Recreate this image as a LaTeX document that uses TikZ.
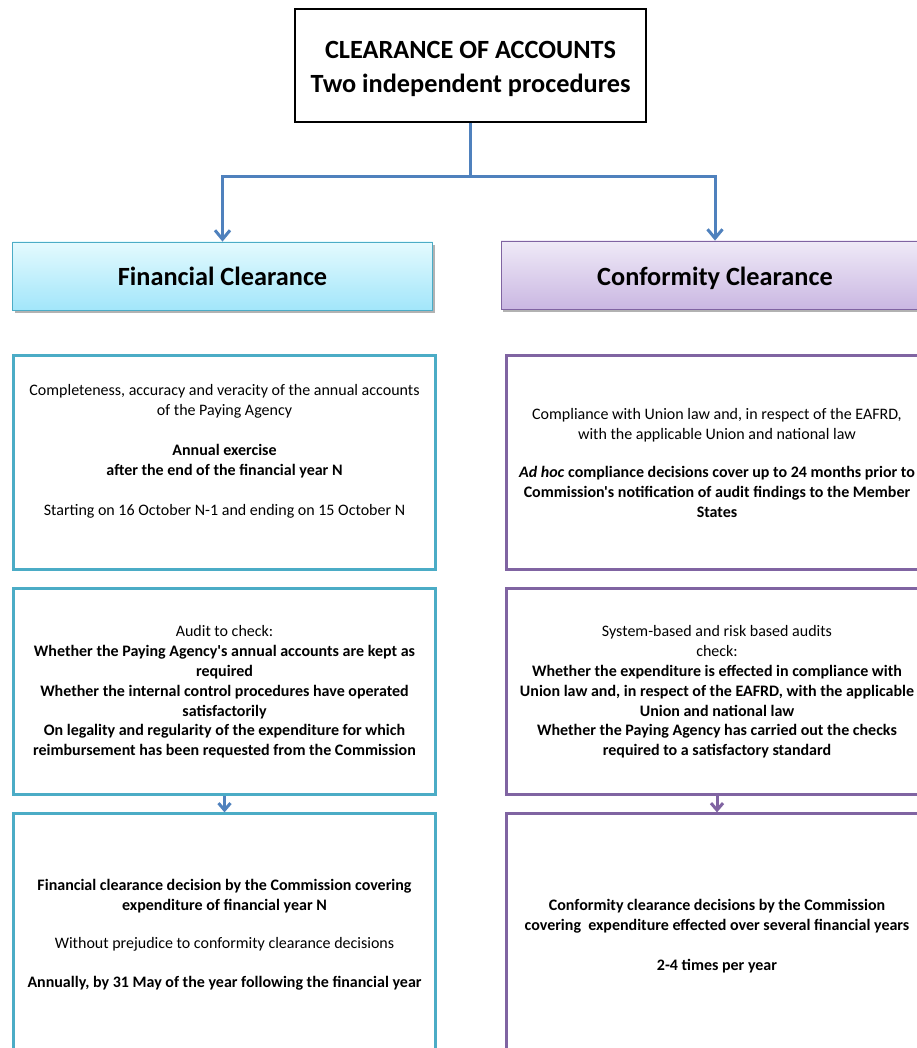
\documentclass[tikz,border=0pt]{standalone}
\usepackage{fontspec}
\setmainfont{Carlito}[Ligatures=TeXOff]
\usepackage{xcolor}
\usepackage{tikz}
\usetikzlibrary{positioning, arrows.meta, shadows}

\definecolor{finblue}{HTML}{4BACC6}
\definecolor{confpurple}{HTML}{8064A2}
\definecolor{linkblue}{HTML}{4F81BD}
\definecolor{fintop}{HTML}{E4FAFE}
\definecolor{finbot}{HTML}{A2E6FA}
\definecolor{conftop}{HTML}{EFEAF7}
\definecolor{confbot}{HTML}{CAB7E2}

\begin{document}
\begin{tikzpicture}[
        x=1pt, y=-1pt,
        node distance=16pt,
        titlebox/.style={draw, line width=2pt, minimum width=351pt, minimum height=113pt, font=\fontsize{26.3}{34}\selectfont\bfseries, align=center},
        head/.style={draw=#1, line width=0.8pt, minimum width=420pt, minimum height=68pt, text height=26pt, text depth=6pt,
            font=\fontsize{26.3}{30}\selectfont\bfseries,
            drop shadow={shadow xshift=2pt, shadow yshift=-3pt, opacity=0.3, fill=black}},
        panel/.style={draw=#1, line width=3pt, minimum width=422pt, inner sep=0pt, font=\fontsize{16}{19.8}\selectfont, align=center},
        link/.style={draw=#1, line width=3pt, -{Straight Barb[length=9pt, width=15pt]}},
        link/.default=linkblue,
    ]
    \useasboundingbox (0,0) rectangle (916,1048);

    % Title
    \node[titlebox] (title) at (470.5,65.5) {\rule{0pt}{24pt}CLEARANCE OF ACCOUNTS\\Two independent procedures};

    % Headers
    \node[head=finblue, top color=fintop, bottom color=finbot] (finhead) at (222.5,276) {Financial Clearance};
    \node[head=confpurple, top color=conftop, bottom color=confbot, minimum width=428pt] (confhead) at (715,275) {Conformity Clearance};

    % Financial clearance column
    \node[panel=finblue, minimum height=214pt, below=44pt of finhead.south, anchor=north, xshift=2pt] (fin1) {Completeness, accuracy and veracity of the annual accounts\\
        of the Paying Agency\\[20pt]
        \textbf{Annual exercise}\\
        \textbf{after the end of the financial year N}\\[20pt]
        Starting on 16 October N-1 and ending on 15 October N\\[6pt]};
    \node[panel=finblue, minimum height=206pt, below=of fin1] (fin2) {Audit to check:\\
        \textbf{Whether the Paying Agency's annual accounts are kept as}\\
        \textbf{required}\\
        \textbf{Whether the internal control procedures have operated}\\
        \textbf{satisfactorily}\\
        \textbf{On legality and regularity of the expenditure for which}\\
        \textbf{reimbursement has been requested from the Commission}};
    \node[panel=finblue, minimum height=242pt, below=of fin2] (fin3) {\textbf{Financial clearance decision by the Commission covering}\\
        \textbf{expenditure of financial year N}\\[18pt]
        Without prejudice to conformity clearance decisions\\[20pt]
        \textbf{Annually, by 31 May of the year following the financial year}};

    % Conformity clearance column
    \node[panel=confpurple, minimum height=214pt, below=45pt of confhead.south, anchor=north, xshift=2pt] (conf1) {Compliance with Union law and, in respect of the EAFRD,\\
        with the applicable Union and national law\\[19pt]
        \textbf{\textit{Ad hoc} compliance decisions cover up to 24 months prior to}\\
        \textbf{Commission's notification of audit findings to the Member}\\
        \textbf{States}};
    \node[panel=confpurple, minimum height=206pt, below=of conf1] (conf2) {System-based and risk based audits\\
        check:\\
        \textbf{Whether the expenditure is effected in compliance with}\\
        \textbf{Union law and, in respect of the EAFRD, with the applicable}\\
        \textbf{Union and national law}\\
        \textbf{Whether the Paying Agency has carried out the checks}\\
        \textbf{required to a satisfactory standard}};
    \node[panel=confpurple, minimum height=244pt, below=of conf2] (conf3) {\textbf{Conformity clearance decisions by the Commission}\\
        \textbf{covering\ \ expenditure effected over several financial years}\\[20pt]
        \textbf{2-4 times per year}};

    % Split connector
    \draw[link] (title.south) -- ++(0,54) -| (finhead.north);
    \draw[link] (title.south) -- ++(0,54) -| (confhead.north);

    % Decision arrows
    \foreach \a/\b/\c in {fin2/fin3/linkblue, conf2/conf3/confpurple} {
        \draw[link=\c, -{Straight Barb[length=7pt, width=12pt]}] (\a.south) -- (\b.north);
    }
\end{tikzpicture}
\end{document}
